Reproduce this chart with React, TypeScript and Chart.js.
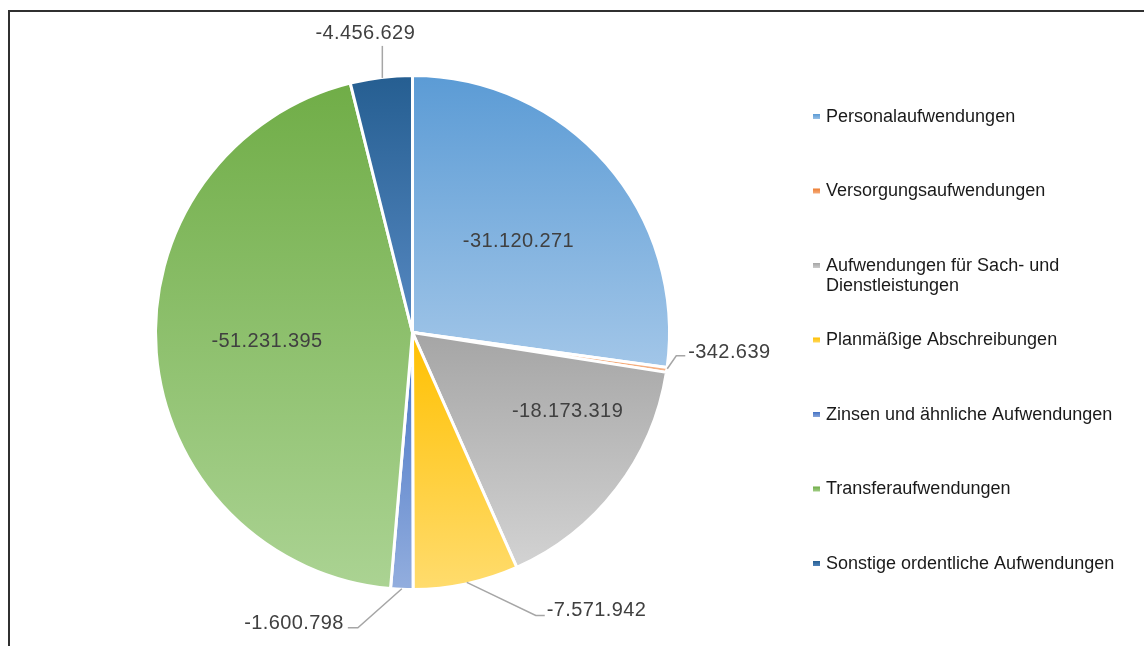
import React, { useEffect, useRef } from "react";
import { Chart, registerables } from "chart.js";

Chart.register(...registerables);

// ---------- data ----------
const categories = [
  "Personalaufwendungen",
  "Versorgungsaufwendungen",
  "Aufwendungen für Sach- und Dienstleistungen",
  "Planmäßige Abschreibungen",
  "Zinsen und ähnliche Aufwendungen",
  "Transferaufwendungen",
  "Sonstige ordentliche Aufwendungen",
];
const values = [-31120271, -342639, -18173319, -7571942, -1600798, -51231395, -4456629];

// ---------- styles ----------
const topColors = ["#5B9BD5", "#ED7D31", "#A5A5A5", "#FFC000", "#4472C4", "#70AD47", "#255E91"];
const bottomColors = ["#A2C6E8", "#F6B68C", "#D3D3D3", "#FFDC6E", "#93AEDE", "#ABD393", "#5789C2"];

// label placement: inside labels -> polar (radius factor, angle offset deg)
// outside labels -> offsets from the slice's outer edge point
type Inside = { kind: "in"; f: number; da: number };
type Outside = {
  kind: "out";
  pts: [number, number][];
  text: [number, number];
  align: CanvasTextAlign;
};
const labelPlacement: (Inside | Outside)[] = [
  { kind: "in", f: 0.55, da: 0 },
  { kind: "out", pts: [[2, -1], [11, -14], [20, -14]], text: [23, -17], align: "left" },
  { kind: "in", f: 0.68, da: -10.7 },
  { kind: "out", pts: [[1, 0], [70, 33], [79, 33]], text: [81, 28.5], align: "left" },
  { kind: "out", pts: [[0, 1], [-44, 40], [-54, 40]], text: [-58, 35.5], align: "right" },
  { kind: "in", f: 0.57, da: 1.6 },
  { kind: "out", pts: [[1, -1], [1, -33]], text: [-16, -45.5], align: "center" },
];

const FONT = "'Liberation Sans', Arial, sans-serif";

function formatDE(v: number): string {
  const s = Math.abs(Math.round(v)).toString();
  let out = "";
  for (let i = 0; i < s.length; i++) {
    const fromEnd = s.length - i;
    out += s[i];
    if (fromEnd > 1 && (fromEnd - 1) % 3 === 0) out += ".";
  }
  return (v < 0 ? "-" : "") + out;
}

const absVals = values.map((v) => Math.abs(v));
const totalAbs = absVals.reduce((a, b) => a + b, 0);

function sliceGradient(chart: Chart, i: number) {
  const area = chart.chartArea;
  if (!area) return topColors[i];
  const cx = (area.left + area.right) / 2;
  const cy = (area.top + area.bottom) / 2;
  const r = Math.min(area.width, area.height) / 2;
  let before = 0;
  for (let k = 0; k < i; k++) before += absVals[k];
  const a0 = -Math.PI / 2 + (2 * Math.PI * before) / totalAbs;
  const a1 = a0 + (2 * Math.PI * absVals[i]) / totalAbs;
  const ys = [cy, cy + r * Math.sin(a0), cy + r * Math.sin(a1)];
  for (let k = -2; k <= 4; k++) {
    const top = -Math.PI / 2 + 2 * Math.PI * k;
    const bot = Math.PI / 2 + 2 * Math.PI * k;
    if (top >= a0 && top <= a1) ys.push(cy - r);
    if (bot >= a0 && bot <= a1) ys.push(cy + r);
  }
  const minY = Math.min(...ys);
  const maxY = Math.max(...ys);
  const g = chart.ctx.createLinearGradient(0, minY, 0, Math.max(maxY, minY + 1));
  g.addColorStop(0, topColors[i]);
  g.addColorStop(1, bottomColors[i]);
  return g;
}

const framePlugin = {
  id: "frame",
  beforeDraw(chart: Chart) {
    const c = chart.ctx;
    c.save();
    c.fillStyle = "#ffffff";
    c.fillRect(0, 0, chart.width, chart.height);
    c.fillStyle = "#303030";
    c.fillRect(8, 10, chart.width - 8, 2);
    c.fillRect(8, 10, 2, chart.height - 10);
    c.restore();
  },
};

const labelsPlugin = {
  id: "sliceLabels",
  afterDatasetsDraw(chart: Chart) {
    const meta = chart.getDatasetMeta(0);
    const c = chart.ctx as any;
    c.save();
    c.font = `20px ${FONT}`;
    c.letterSpacing = "0.4px";
    c.fillStyle = "#404040";
    c.textBaseline = "middle";
    meta.data.forEach((el: any, i: number) => {
      const p = el.getProps(["x", "y", "startAngle", "endAngle", "outerRadius"], true);
      const mid = (p.startAngle + p.endAngle) / 2;
      const rVis = p.outerRadius - 1.5;
      const place = labelPlacement[i];
      const txt = formatDE(values[i]);
      if (place.kind === "in") {
        const a = mid + (place.da * Math.PI) / 180;
        const x = p.x + Math.cos(a) * rVis * place.f;
        const y = p.y + Math.sin(a) * rVis * place.f + 1;
        c.textAlign = "center";
        c.fillText(txt, x, y);
      } else {
        const ex = p.x + Math.cos(mid) * rVis;
        const ey = p.y + Math.sin(mid) * rVis;
        c.strokeStyle = "#A6A6A6";
        c.lineWidth = 1.5;
        c.beginPath();
        place.pts.forEach(([dx, dy], k) => {
          if (k === 0) c.moveTo(ex + dx, ey + dy);
          else c.lineTo(ex + dx, ey + dy);
        });
        c.stroke();
        c.textAlign = place.align;
        c.fillText(txt, ex + place.text[0], ey + place.text[1]);
      }
    });
    c.restore();
  },
};

const legendPlugin = {
  id: "sideLegend",
  afterDraw(chart: Chart) {
    const c = chart.ctx;
    c.save();
    c.font = `18px ${FONT}`;
    c.textBaseline = "middle";
    c.textAlign = "left";
    const markerX = 813;
    const textX = 826;
    const maxW = 300;
    const startY = 117;
    const step = 74.5;
    const lineH = 20;
    categories.forEach((name, i) => {
      const y = startY + i * step;
      const g = c.createLinearGradient(0, y - 3, 0, y + 3);
      g.addColorStop(0, topColors[i]);
      g.addColorStop(1, bottomColors[i]);
      c.fillStyle = g;
      c.fillRect(markerX, y - 3, 7, 5);
      const words = name.split(" ");
      const lines: string[] = [];
      let cur = "";
      words.forEach((w) => {
        const test = cur ? cur + " " + w : w;
        if (c.measureText(test).width > maxW && cur) {
          lines.push(cur);
          cur = w;
        } else cur = test;
      });
      if (cur) lines.push(cur);
      c.fillStyle = "#1A1A1A";
      lines.forEach((ln, k) => c.fillText(ln, textX, y + k * lineH));
    });
    c.restore();
  },
};

export default function App() {
  const ref = useRef<HTMLCanvasElement>(null);
  useEffect(() => {
    if (!ref.current) return;
    const chart = new Chart(ref.current, {
      type: "pie",
      data: {
        labels: categories,
        datasets: [
          {
            data: absVals,
            backgroundColor: (ctx: any) =>
              ctx.type === "data" ? sliceGradient(ctx.chart, ctx.dataIndex) : "#ccc",
            borderColor: "#ffffff",
            borderWidth: 3,
          },
        ],
      },
      options: {
        responsive: false,
        animation: false,
        rotation: 0,
        layout: { padding: { left: 154, top: 74, right: 473, bottom: 55 } },
        plugins: {
          legend: { display: false },
          tooltip: { enabled: false },
        },
      },
      plugins: [framePlugin, labelsPlugin, legendPlugin],
    });
    return () => chart.destroy();
  }, []);
  return (
    <div style={{ position: "absolute", left: 0, top: 0, width: 1144, height: 646 }}>
      <canvas ref={ref} width={1144} height={646} style={{ width: 1144, height: 646, display: "block" }} />
    </div>
  );
}
